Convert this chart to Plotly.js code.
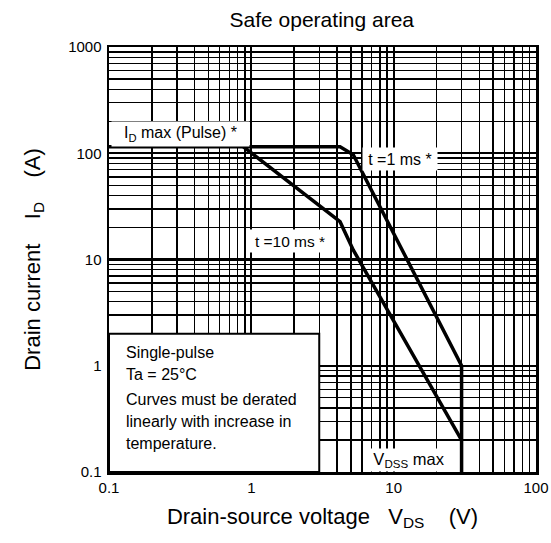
<!DOCTYPE html>
<html>
<head>
<meta charset="utf-8">
<script src="https://cdn.plot.ly/plotly-3.0.1.min.js"></script>
<style>
  html, body { margin: 0; padding: 0; background: #fff; }
</style>
</head>
<body>
<div id="chart" style="width:551px;height:543px"></div>
<script>
// Safe operating area boundaries (V_DS in volts, I_D in amperes)
const vds1ms  = [0.1, 4.2, 5.2, 30, 30];
const id1ms   = [115, 115, 97, 1.0, 0.1];
const vds10ms = [0.88, 4.2, 5.2, 30];
const id10ms  = [115, 22.7, 12.3, 0.2];

// Axis tick labels
const xTickVals = [0.1, 1, 10, 100];
const xTickText = ['0.1', '1', '10', '100'];
const yTickVals = [0.1, 1, 10, 100, 1000];
const yTickText = ['0.1', '1', '10', '100', '1000'];

const FONT = 'Liberation Sans, Arial, Helvetica, sans-serif';
const SP3 = '\u00a0\u00a0\u00a0';
const SP4 = '\u00a0\u00a0\u00a0\u00a0';

// Minor (2..9 per decade) grid positions
function minorVals(fromExp, toExp, skip) {
  const out = [];
  for (let e = fromExp; e < toExp; e++) {
    for (let k = 2; k <= 9; k++) {
      const v = +(k * Math.pow(10, e)).toPrecision(3);
      if (!skip.includes(v)) out.push(v);
    }
  }
  return out;
}

const traces = [
  { x: vds1ms, y: id1ms, type: 'scatter', mode: 'lines',
    line: { color: '#000', width: 3.5 }, hoverinfo: 'skip', cliponaxis: false },
  { x: vds10ms, y: id10ms, type: 'scatter', mode: 'lines',
    line: { color: '#000', width: 3.5 }, hoverinfo: 'skip', cliponaxis: false }
];

const axisCommon = {
  type: 'log',
  showline: true, mirror: true, linecolor: '#000', linewidth: 2.5,
  showgrid: true, gridcolor: '#000', gridwidth: 2.2,
  zeroline: false, ticks: '', tickmode: 'array',
  tickfont: { family: FONT, size: 15, color: '#000' },
  automargin: false
};

const layout = {
  width: 551, height: 543,
  margin: { l: 108.5, r: 15, t: 47, b: 70.5 },
  paper_bgcolor: '#fff', plot_bgcolor: '#fff',
  showlegend: false,
  font: { family: FONT, color: '#000' },
  title: {
    text: 'Safe operating area',
    font: { family: FONT, size: 21, color: '#000' },
    x: 0.584, xref: 'container', xanchor: 'center',
    y: 0.963, yref: 'container', yanchor: 'middle'
  },
  xaxis: Object.assign({}, axisCommon, {
    range: [-1, 2],
    tickvals: xTickVals, ticktext: xTickText,
    ticklabelstandoff: 0,
    minor: { tickmode: 'array', tickvals: minorVals(-1, 2, []),
             showgrid: true, gridcolor: '#000', gridwidth: 1.4 },
    title: { text: 'Drain-source voltage' + SP3 + 'V<sub>DS</sub>' + SP4 + '(V)',
             font: { family: FONT, size: 22, color: '#000' }, standoff: 14 }
  }),
  yaxis: Object.assign({}, axisCommon, {
    range: [-1, 3],
    tickvals: yTickVals, ticktext: yTickText,
    ticklabelstandoff: 2,
    minor: { tickmode: 'array', tickvals: minorVals(-1, 3, [2]),
             showgrid: true, gridcolor: '#000', gridwidth: 1.4 },
    title: { text: 'Drain current' + SP4 + 'I<sub>D</sub>' + SP4 + '(A)',
             font: { family: FONT, size: 22, color: '#000' }, standoff: 22 }
  }),
  shapes: [
    // Conditions panel in the lower-left corner
    { type: 'rect', xref: 'x', yref: 'y', x0: 0.1, x1: 3, y0: 0.1, y1: 2,
      fillcolor: '#fff', line: { color: '#000', width: 2 }, layer: 'above' }
  ],
  annotations: [
    { xref: 'paper', yref: 'paper', x: 0.1683, y: 0.795, xanchor: 'center', yanchor: 'middle',
      text: 'I<sub>D</sub> max (Pulse) *', showarrow: false, bgcolor: '#fff',
      width: 133, height: 20, borderpad: 2, align: 'center',
      font: { family: FONT, size: 16, color: '#000' } },
    { xref: 'paper', yref: 'paper', x: 0.6814, y: 0.7364, xanchor: 'center', yanchor: 'middle',
      text: 't =1 ms *', showarrow: false, bgcolor: '#fff',
      width: 70, height: 18, borderpad: 2, align: 'center',
      font: { family: FONT, size: 16, color: '#000' } },
    { xref: 'paper', yref: 'paper', x: 0.4243, y: 0.5427, xanchor: 'center', yanchor: 'middle',
      text: 't =10 ms *', showarrow: false, bgcolor: '#fff',
      width: 76, height: 18, borderpad: 2, align: 'center',
      font: { family: FONT, size: 15.5, color: '#000' } },
    { xref: 'paper', yref: 'paper', x: 0.703, y: 0.0275, xanchor: 'center', yanchor: 'middle',
      text: 'V<sub>DSS</sub> max', showarrow: false, bgcolor: '#fff',
      width: 78, height: 18, borderpad: 2, align: 'center',
      font: { family: FONT, size: 16.5, color: '#000' } },
    { xref: 'paper', yref: 'paper', x: 0.0362, y: 0.281, xanchor: 'left', yanchor: 'middle',
      text: 'Single-pulse', showarrow: false, align: 'left',
      font: { family: FONT, size: 16, color: '#000' } },
    { xref: 'paper', yref: 'paper', x: 0.0362, y: 0.229, xanchor: 'left', yanchor: 'middle',
      text: 'Ta = 25°C', showarrow: false, align: 'left',
      font: { family: FONT, size: 16, color: '#000' } },
    { xref: 'paper', yref: 'paper', x: 0.0362, y: 0.171, xanchor: 'left', yanchor: 'middle',
      text: 'Curves must be derated', showarrow: false, align: 'left',
      font: { family: FONT, size: 16, color: '#000' } },
    { xref: 'paper', yref: 'paper', x: 0.0362, y: 0.119, xanchor: 'left', yanchor: 'middle',
      text: 'linearly with increase in', showarrow: false, align: 'left',
      font: { family: FONT, size: 16, color: '#000' } },
    { xref: 'paper', yref: 'paper', x: 0.0362, y: 0.067, xanchor: 'left', yanchor: 'middle',
      text: 'temperature.', showarrow: false, align: 'left',
      font: { family: FONT, size: 16, color: '#000' } }
  ]
};

Plotly.newPlot('chart', traces, layout, { staticPlot: true, displayModeBar: false });
</script>
</body>
</html>
